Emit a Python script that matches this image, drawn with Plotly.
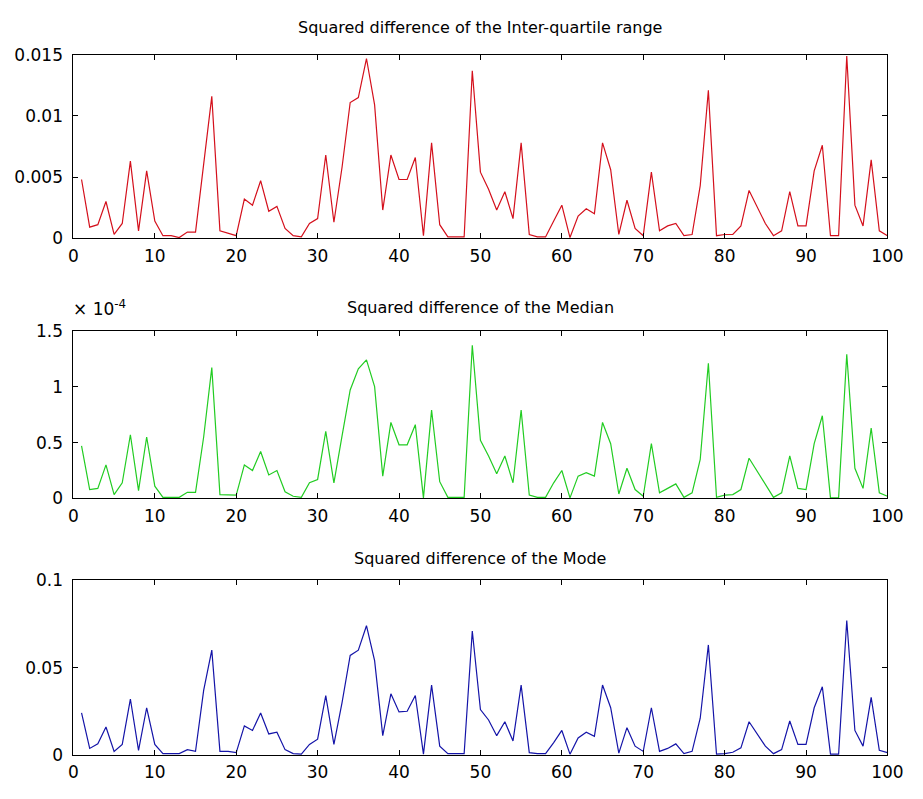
import plotly.graph_objects as go

samples = list(range(1, 101))

iqr_diff = [0.0048, 0.0009, 0.0011, 0.003, 0.0003, 0.0012, 0.0063, 0.0006, 0.0055, 0.0014,
            0.0002, 0.0002, 0.00005, 0.0005, 0.0005, 0.006, 0.0116, 0.0006, 0.0004, 0.0002,
            0.0032, 0.0027, 0.0047, 0.0022, 0.0026, 0.0008, 0.0002, 0.0001, 0.0012, 0.0016,
            0.0068, 0.0013, 0.0058, 0.0111, 0.0115, 0.0147, 0.0109, 0.0023, 0.0068, 0.0048,
            0.0048, 0.0066, 0.0002, 0.0078, 0.0011, 0.0001, 0.0001, 0.0001, 0.0137, 0.0054,
            0.004, 0.0023, 0.0038, 0.0016, 0.0078, 0.0003, 0.0001, 0.0001, 0.0014, 0.0027,
            0.00005, 0.0018, 0.0024, 0.002, 0.0078, 0.0056, 0.0003, 0.0031, 0.0008, 0.0002,
            0.0054, 0.0006, 0.001, 0.0012, 0.0002, 0.0003, 0.0043, 0.0121, 0.0002, 0.0003,
            0.0003, 0.001, 0.0039, 0.0026, 0.0012, 0.0002, 0.0006, 0.0038, 0.001, 0.001,
            0.0055, 0.0076, 0.0002, 0.0002, 0.0149, 0.0027, 0.001, 0.0064, 0.0006, 0.0002]

# median squared difference, in units of 1e-4
median_diff_e4 = [0.47, 0.08, 0.09, 0.30, 0.035, 0.14, 0.57, 0.07, 0.55, 0.11,
                  0.01, 0.01, 0.01, 0.055, 0.055, 0.55, 1.17, 0.035, 0.035, 0.03,
                  0.30, 0.25, 0.42, 0.21, 0.25, 0.06, 0.02, 0.01, 0.14, 0.17,
                  0.60, 0.14, 0.56, 0.97, 1.16, 1.24, 1.0, 0.2, 0.68, 0.48,
                  0.48, 0.66, 0.005, 0.79, 0.15, 0.01, 0.01, 0.01, 1.37, 0.52,
                  0.38, 0.22, 0.38, 0.14, 0.79, 0.03, 0.01, 0.01, 0.14, 0.25,
                  0.005, 0.2, 0.23, 0.2, 0.68, 0.49, 0.04, 0.27, 0.08, 0.02,
                  0.49, 0.05, 0.09, 0.13, 0.01, 0.05, 0.35, 1.21, 0.01, 0.03,
                  0.035, 0.08, 0.36, 0.24, 0.12, 0.01, 0.05, 0.38, 0.09, 0.08,
                  0.49, 0.74, 0.005, 0.005, 1.29, 0.27, 0.09, 0.63, 0.05, 0.02]

mode_diff = [0.024, 0.0037, 0.0063, 0.016, 0.002, 0.006, 0.032, 0.0026, 0.027, 0.006,
             0.0007, 0.0007, 0.0007, 0.003, 0.002, 0.037, 0.06, 0.002, 0.002, 0.0013,
             0.0166, 0.014, 0.024, 0.012, 0.013, 0.003, 0.0007, 0.0004, 0.006, 0.009,
             0.034, 0.006, 0.03, 0.057, 0.06, 0.074, 0.054, 0.011, 0.035, 0.0246,
             0.025, 0.034, 0.0004, 0.04, 0.005, 0.0007, 0.0007, 0.0007, 0.071, 0.026,
             0.02, 0.011, 0.019, 0.008, 0.04, 0.0013, 0.0007, 0.0007, 0.007, 0.014,
             0.0004, 0.0097, 0.013, 0.0106, 0.04, 0.027, 0.001, 0.0156, 0.005, 0.002,
             0.027, 0.002, 0.0037, 0.0063, 0.0007, 0.002, 0.021, 0.063, 0.0004, 0.0007,
             0.0015, 0.004, 0.019, 0.012, 0.005, 0.0007, 0.003, 0.0194, 0.006, 0.006,
             0.027, 0.039, 0.0004, 0.0004, 0.077, 0.014, 0.005, 0.033, 0.0026, 0.0013]

titles = ["Squared difference of the Inter-quartile range",
          "Squared difference of the Median",
          "Squared difference of the Mode"]

x_ticks = [0, 10, 20, 30, 40, 50, 60, 70, 80, 90, 100]
y1_ticks = [0, 0.005, 0.01, 0.015]
y1_labels = ["0", "0.005", "0.01", "0.015"]
y2_ticks = [0, 0.5, 1, 1.5]
y2_labels = ["0", "0.5", "1", "1.5"]
y3_ticks = [0, 0.05, 0.1]
y3_labels = ["0", "0.05", "0.1"]

W, H = 923, 799
x_dom = [70 / W, 903 / W]
y_doms = [[1 - 234 / H, 1 - 46 / H],
          [1 - 501 / H, 1 - 329 / H],
          [1 - 764 / H, 1 - 585 / H]]

FONT = "DejaVu Sans"

fig = go.Figure()
fig.add_trace(go.Scatter(x=samples, y=iqr_diff, mode="lines",
                         line=dict(color="#d4101c", width=1.2), xaxis="x", yaxis="y"))
fig.add_trace(go.Scatter(x=samples, y=median_diff_e4, mode="lines",
                         line=dict(color="#22cc22", width=1.2), xaxis="x2", yaxis="y2"))
fig.add_trace(go.Scatter(x=samples, y=mode_diff, mode="lines",
                         line=dict(color="#1414a8", width=1.2), xaxis="x3", yaxis="y3"))

axis_common = dict(showline=True, linecolor="black", linewidth=1, mirror="ticks",
                   ticks="inside", ticklen=5, tickcolor="black", tickwidth=1,
                   showgrid=False, zeroline=False,
                   tickfont=dict(family=FONT, size=17, color="black"))

layout = dict(width=W, height=H, margin=dict(l=0, r=0, t=0, b=0),
              paper_bgcolor="white", plot_bgcolor="white", showlegend=False)

yinfo = [(y1_ticks, y1_labels, [0, 0.015]),
         (y2_ticks, y2_labels, [0, 1.5]),
         (y3_ticks, y3_labels, [0, 0.1])]
for i in range(3):
    sfx = "" if i == 0 else str(i + 1)
    layout["xaxis" + sfx] = dict(axis_common, domain=x_dom, range=[0, 100],
                                 tickvals=x_ticks, anchor="y" + sfx,
                                 ticklabelstandoff=2)
    tv, tl, rg = yinfo[i]
    layout["yaxis" + sfx] = dict(axis_common, domain=y_doms[i], range=rg,
                                 tickvals=tv, ticktext=tl, anchor="x" + sfx,
                                 ticklabelstandoff=6)

fig.update_layout(**layout)

title_y = [18, 305, 563]
for t, ty in zip(titles, title_y):
    fig.add_annotation(text=t, x=(x_dom[0] + x_dom[1]) / 2, y=1 - ty / H,
                       xref="paper", yref="paper", showarrow=False,
                       xanchor="center", yanchor="middle",
                       font=dict(family=FONT, size=16, color="black"))

fig.add_annotation(text="× 10<sup>-4</sup>", x=68 / W, y=1 - 306 / H,
                   xref="paper", yref="paper", showarrow=False,
                   xanchor="left", yanchor="middle",
                   font=dict(family=FONT, size=17, color="black"))

fig.write_html("out.html")
